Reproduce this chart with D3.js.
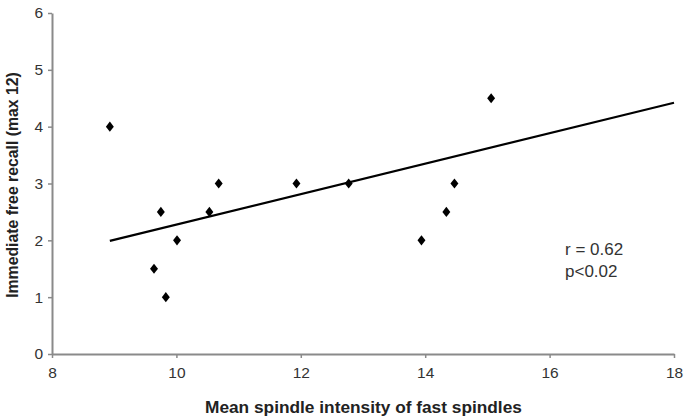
<!DOCTYPE html>
<html>
<head>
<meta charset="utf-8">
<script src="https://cdn.jsdelivr.net/npm/d3@7"></script>
<style>
  body { margin: 0; background: #fff; }
  svg { display: block; font-family: Arial, "Liberation Sans", sans-serif; }
</style>
</head>
<body>
<div id="vis"></div>
<script>
// spindle intensity vs recall
const spindleX = [8.93, 9.64, 9.75, 9.83, 10.01, 10.53, 10.68, 11.93, 12.77, 13.94, 14.34, 14.47, 15.06];
const recallY = [4, 1.5, 2.5, 1, 2, 2.5, 3, 3, 3, 2, 2.5, 3, 4.5];
const trendX = [8.93, 18];
const trendY = [1.99, 4.42];
const xTicks = [8, 10, 12, 14, 16, 18];
const yTicks = [0, 1, 2, 3, 4, 5, 6];
const statLines = ["r = 0.62", "p<0.02"];

const W = 689, H = 420;
const m = { top: 13, right: 15, bottom: 66, left: 52 };

const svg = d3.select("#vis").append("svg").attr("width", W).attr("height", H);

const x = d3.scaleLinear().domain([8, 18]).range([m.left, W - m.right]);
const y = d3.scaleLinear().domain([0, 6]).range([H - m.bottom, m.top]);

const xAxis = svg.append("g")
  .attr("transform", `translate(0,${H - m.bottom})`)
  .call(d3.axisBottom(x).tickValues(xTicks).tickFormat(d3.format("d"))
    .tickSize(4).tickPadding(9).tickSizeOuter(0));
const yAxis = svg.append("g")
  .attr("transform", `translate(${m.left},0)`)
  .call(d3.axisLeft(y).tickValues(yTicks).tickFormat(d3.format("d"))
    .tickSize(4).tickPadding(5).tickSizeOuter(0));

[xAxis, yAxis].forEach(g => {
  g.select(".domain").attr("stroke", "#8a8a8a").attr("stroke-width", 2);
  g.selectAll(".tick line").attr("stroke", "#8a8a8a").attr("stroke-width", 1.5);
  g.selectAll(".tick text").attr("fill", "#333").attr("font-size", 15.5)
    .attr("font-family", "Arial, 'Liberation Sans', sans-serif");
});

// trend line
svg.append("path")
  .datum(trendX.map((v, i) => [v, trendY[i]]))
  .attr("fill", "none")
  .attr("stroke", "#000")
  .attr("stroke-width", 2.2)
  .attr("d", d3.line().x(d => x(d[0])).y(d => y(d[1])));

// points (diamonds)
const diamond = d3.symbol().type(d3.symbolDiamond).size(30);
svg.append("g").selectAll("path")
  .data(spindleX.map((v, i) => [v, recallY[i]]))
  .join("path")
  .attr("d", diamond)
  .attr("fill", "#000")
  .attr("transform", d => `translate(${x(d[0])},${y(d[1])}) scale(1.35,1)`);

// stats
svg.append("g").selectAll("text")
  .data(statLines)
  .join("text")
  .attr("x", 565)
  .attr("y", (d, i) => 255 + i * 22)
  .attr("font-size", 17)
  .attr("fill", "#333")
  .text(d => d);

// axis titles
svg.append("text")
  .attr("x", 205).attr("y", 413)
  .attr("font-size", 17.3).attr("font-weight", "bold").attr("fill", "#222")
  .text("Mean spindle intensity of fast spindles");

svg.append("text")
  .attr("transform", "translate(18,185) rotate(-90)")
  .attr("text-anchor", "middle")
  .attr("font-size", 15.8).attr("font-weight", "bold").attr("fill", "#222")
  .text("Immediate free recall (max 12)");
</script>
</body>
</html>
